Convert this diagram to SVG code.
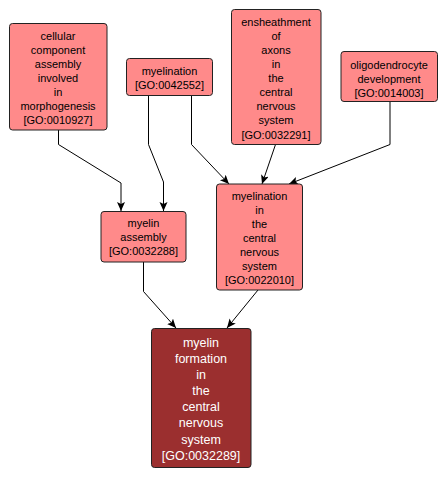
<svg xmlns="http://www.w3.org/2000/svg" width="448" height="480" viewBox="0 0 448 480">
<style>
.n rect{fill:#ff8a8a;stroke:#222;stroke-width:1}
.n text{font-family:"Liberation Sans",Arial,sans-serif;font-size:11px;fill:#000;text-anchor:middle}
.d rect{fill:#9b2f2f;stroke:#222;stroke-width:1}
.d text{font-family:"Liberation Sans",Arial,sans-serif;font-size:12.5px;fill:#fff;text-anchor:middle}
.e path{fill:none;stroke:#000;stroke-width:1;marker-end:url(#a)}
</style>
<defs>
<marker id="a" markerWidth="10" markerHeight="10" refX="9" refY="4" orient="auto" markerUnits="userSpaceOnUse">
<path d="M0,0 L9,4 L0,8 L2,4 Z" fill="#000"/>
</marker>
</defs>
<rect width="448" height="480" fill="#fff"/>
<g id="edges" class="e">
<path d="M58.5,130 V144.5 L121,183 V211"/>
<path d="M148.5,95.5 V144.5 L163.5,182 V211"/>
<path d="M191.5,95.5 V144.5 L229,184"/>
<path d="M275.5,144.5 L262,184"/>
<path d="M390,101.5 V144.5 L289,184"/>
<path d="M143.5,262 V291.5 L176,328"/>
<path d="M258,290 L227,328"/>
</g>
<g id="n1" class="n">
<rect x="9.5" y="23.5" width="97.5" height="106.5" rx="3"/>
<text x="58" y="40">cellular</text>
<text x="58" y="54">component</text>
<text x="58" y="68">assembly</text>
<text x="58" y="82">involved</text>
<text x="58" y="96">in</text>
<text x="58" y="110">morphogenesis</text>
<text x="58" y="124">[GO:0010927]</text>
</g>
<g id="n2" class="n">
<rect x="126.5" y="58.5" width="86" height="37" rx="3"/>
<text x="169.5" y="75">myelination</text>
<text x="169.5" y="89">[GO:0042552]</text>
</g>
<g id="n3" class="n">
<rect x="231.5" y="9.5" width="89.5" height="135" rx="3"/>
<text x="276" y="26">ensheathment</text>
<text x="276" y="40">of</text>
<text x="276" y="54">axons</text>
<text x="276" y="68">in</text>
<text x="276" y="82">the</text>
<text x="276" y="96">central</text>
<text x="276" y="110">nervous</text>
<text x="276" y="124">system</text>
<text x="276" y="139">[GO:0032291]</text>
</g>
<g id="n4" class="n">
<rect x="341" y="51.5" width="96.5" height="50" rx="3"/>
<text x="389" y="69">oligodendrocyte</text>
<text x="389" y="83">development</text>
<text x="389" y="97">[GO:0014003]</text>
</g>
<g id="n5" class="n">
<rect x="101" y="211.5" width="85" height="50.5" rx="3"/>
<text x="143.5" y="227">myelin</text>
<text x="143.5" y="241">assembly</text>
<text x="143.5" y="255">[GO:0032288]</text>
</g>
<g id="n6" class="n">
<rect x="216.5" y="184" width="86" height="106" rx="3"/>
<text x="259.5" y="200">myelination</text>
<text x="259.5" y="214">in</text>
<text x="259.5" y="228">the</text>
<text x="259.5" y="242">central</text>
<text x="259.5" y="256">nervous</text>
<text x="259.5" y="270">system</text>
<text x="259.5" y="284">[GO:0022010]</text>
</g>
<g id="n7" class="d">
<rect x="151.5" y="328.5" width="99.5" height="139" rx="3"/>
<text x="201" y="346.5">myelin</text>
<text x="201" y="363">formation</text>
<text x="201" y="379">in</text>
<text x="201" y="395">the</text>
<text x="201" y="411">central</text>
<text x="201" y="427">nervous</text>
<text x="201" y="444">system</text>
<text x="201" y="460">[GO:0032289]</text>
</g>
</svg>
